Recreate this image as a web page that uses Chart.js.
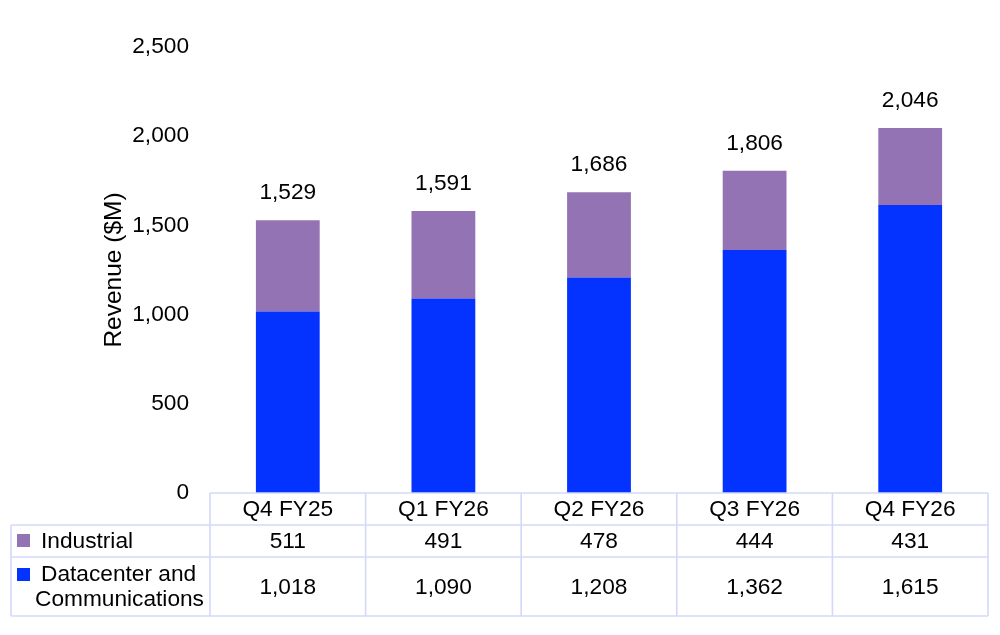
<!DOCTYPE html>
<html>
<head>
<meta charset="utf-8">
<script src="https://cdn.jsdelivr.net/npm/chart.js@4.4.1/dist/chart.umd.min.js"></script>
<style>
  html, body { margin: 0; padding: 0; background: #fff; }
  #wrap { width: 1000px; height: 635px; position: relative; }
</style>
</head>
<body>
<div id="wrap"><canvas id="c"></canvas></div>
<script>
const categories = ['Q4 FY25', 'Q1 FY26', 'Q2 FY26', 'Q3 FY26', 'Q4 FY26'];
const industrial = [511, 491, 478, 444, 431];
const datacenter = [1018, 1090, 1208, 1362, 1615];
const totals = [1529, 1591, 1686, 1806, 2046];
const seriesNames = ['Industrial', ['Datacenter and', 'Communications']];
const yMin = 0, yMax = 2500, yStep = 500;

const FONT = "'Liberation Sans', Arial, sans-serif";
const FS = 22.7;
const PURPLE = '#9373B4';
const BLUE = '#0433FF';
const BORDER = '#d3d8fa';
const fmt = v => v.toLocaleString('en-US');

const totalsPlugin = {
  id: 'totals',
  afterDatasetsDraw(chart) {
    const ctx = chart.ctx;
    const meta = chart.getDatasetMeta(1);
    ctx.save();
    ctx.font = FS + 'px ' + FONT;
    ctx.fillStyle = '#000';
    ctx.textAlign = 'center';
    ctx.textBaseline = 'alphabetic';
    meta.data.forEach((el, i) => {
      ctx.fillText(fmt(totals[i]), el.x, el.y - 21);
    });
    ctx.restore();
  }
};

const tablePlugin = {
  id: 'dataTable',
  afterDraw(chart) {
    const ctx = chart.ctx;
    const xs = chart.scales.x;
    const area = chart.chartArea;
    const n = categories.length;
    const colW = (area.right - area.left) / n;
    const tableLeft = 11;
    const rows = [area.bottom, area.bottom + 32, area.bottom + 64, area.bottom + 123];
    ctx.save();
    ctx.strokeStyle = BORDER;
    ctx.lineWidth = 1.6;
    const hline = (y, x0, x1) => { ctx.beginPath(); ctx.moveTo(x0, y); ctx.lineTo(x1, y); ctx.stroke(); };
    const vline = (x, y0, y1) => { ctx.beginPath(); ctx.moveTo(x, y0); ctx.lineTo(x, y1); ctx.stroke(); };
    hline(rows[0], area.left, area.right);
    hline(rows[1], tableLeft, area.right);
    hline(rows[2], tableLeft, area.right);
    hline(rows[3], tableLeft, area.right);
    vline(tableLeft, rows[1], rows[3]);
    for (let i = 0; i < n; i++) {
      const cx = xs.getPixelForValue(i);
      vline(cx - colW / 2, rows[0], rows[3]);
    }
    vline(area.right, rows[0], rows[3]);

    ctx.fillStyle = '#000';
    ctx.font = FS + 'px ' + FONT;
    ctx.textAlign = 'center';
    ctx.textBaseline = 'middle';
    const series = [industrial, datacenter];
    for (let i = 0; i < n; i++) {
      const cx = xs.getPixelForValue(i);
      ctx.fillText(categories[i], cx, (rows[0] + rows[1]) / 2 + 1);
      for (let s = 0; s < 2; s++) {
        ctx.fillText(fmt(series[s][i]), cx, (rows[s + 1] + rows[s + 2]) / 2 + 1);
      }
    }
    const colors = [PURPLE, BLUE];
    ctx.textAlign = 'left';
    let cy = (rows[1] + rows[2]) / 2;
    ctx.fillStyle = colors[0];
    ctx.fillRect(17, cy - 7, 13, 13);
    ctx.fillStyle = '#000';
    ctx.fillText(seriesNames[0], 41, cy + 1);
    const lines = seriesNames[1];
    const y1 = rows[2] + 17, y2 = rows[2] + 42;
    ctx.fillStyle = colors[1];
    ctx.fillRect(17, y1 - 6, 13, 13);
    ctx.fillStyle = '#000';
    ctx.fillText(lines[0], 41, y1 + 1);
    ctx.fillText(lines[1], 35, y2 + 1);
    ctx.restore();
  }
};

new Chart(document.getElementById('c'), {
  type: 'bar',
  data: {
    labels: categories,
    datasets: [
      { label: 'Datacenter and Communications', data: datacenter, backgroundColor: BLUE, borderWidth: 0 },
      { label: 'Industrial', data: industrial, backgroundColor: PURPLE, borderWidth: 0 }
    ]
  },
  options: {
    responsive: true,
    maintainAspectRatio: false,
    animation: false,
    devicePixelRatio: 1,
    layout: { padding: { left: 0, right: 12, top: 47, bottom: 142 } },
    plugins: { legend: { display: false }, tooltip: { enabled: false } },
    datasets: { bar: { categoryPercentage: 1, barPercentage: 0.41 } },
    scales: {
      x: { stacked: true, display: false },
      y: {
        stacked: true,
        min: yMin, max: yMax,
        grid: { display: false, drawTicks: false },
        border: { display: false },
        ticks: {
          stepSize: yStep,
          padding: 21,
          color: '#000',
          font: { family: FONT, size: FS },
          callback: v => fmt(v)
        },
        title: {
          display: true,
          text: 'Revenue ($M)',
          color: '#000',
          font: { family: FONT, size: 24.5 },
          padding: { top: 100, bottom: 0 }
        },
        afterFit(scale) { scale.width = 210; }
      }
    }
  },
  plugins: [totalsPlugin, tablePlugin]
});
</script>
</body>
</html>
